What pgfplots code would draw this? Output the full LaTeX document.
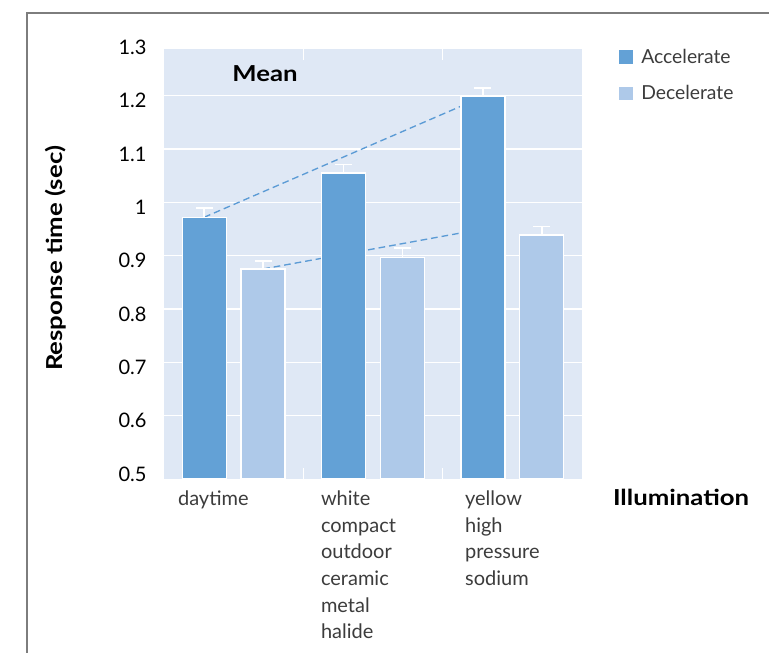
\documentclass[border=0pt]{standalone}
\usepackage{fontspec}
\setmainfont{Lato}
\newfontfamily\wide[FakeStretch=1.17]{Lato}
\usepackage{pgfplots}
\pgfplotsset{compat=1.18}
\definecolor{accel}{RGB}{99,161,214}
\definecolor{decel}{RGB}{174,201,233}
\definecolor{bgc}{RGB}{223,232,245}
\definecolor{dashc}{RGB}{91,155,213}
\definecolor{framec}{RGB}{125,125,125}
\definecolor{txt}{RGB}{60,60,60}
\begin{document}
\begin{tikzpicture}
\path[use as bounding box] (0pt,0pt) rectangle (576.75pt,-489.75pt);
\draw[framec, line width=1.5pt] (20.6pt,-500pt) -- (20.6pt,-9.75pt) -- (600pt,-9.75pt);
\begin{axis}[
  at={(123pt,-359.25pt)}, anchor=south west,
  width=313.5pt, height=322.5pt, scale only axis,
  xmin=-0.5, xmax=2.5, ymin=0.481, ymax=1.2876,
  clip mode=individual,
  axis background/.style={fill=bgc},
  axis line style={draw=none},
  tick style={draw=none},
  ytick={0.6,0.7,0.8,0.9,1.0,1.1,1.2},
  yticklabels={0.6,0.7,0.8,0.9,1,1.1,1.2},
  extra y ticks={0.5}, extra y tick labels={0.5},
  extra y tick style={grid=none},
  ymajorgrids, grid style={white, line width=1.1pt},
  xtick={-0.385,0.641,1.675},
  xticklabels={daytime,{white\\compact\\outdoor\\ceramic\\metal\\halide},{yellow\\high\\pressure\\sodium}},
  extra x ticks={0.5,1.5}, extra x tick labels={},
  extra x tick style={grid=none, major tick length=8pt, tick align=inside, tick style={draw=white, line width=1pt}},
  tick label style={font=\fontsize{15}{20}\selectfont},
  yticklabel style={xshift=-9.6pt, yshift=-3.75pt, text=black},
  xticklabel style={anchor=north west, align=left, xshift=-5pt, yshift=-5.25pt, text=txt},
  legend style={at={(axis description cs:1.0885,1.007)}, anchor=north west, draw=none, fill=none,
    font=\fontsize{14.5}{17}\selectfont\color{txt}, row sep=11.25pt, column sep=4.5pt, inner sep=0pt, cells={anchor=west}},
]
\addplot[dashc, line width=1pt, dash pattern=on 5pt off 3pt, forget plot] coordinates {(-0.2117,0.972) (1.7883,1.198)};
\addplot[dashc, line width=1pt, dash pattern=on 5pt off 3pt, forget plot] coordinates {(0.2117,0.875) (1.7883,0.950)};
\addplot[ybar, bar width=33pt, bar shift=0pt, fill=accel, draw=white, line width=1pt,
  legend image code/.code={\fill[accel] (0pt,-4.5pt) rectangle (9pt,4.5pt);},
  error bars/.cd, y dir=plus, y explicit,
  error bar style={white, line width=1.2pt},
  error mark options={white, line width=1.2pt, mark size=6.4pt, rotate=90}]
  coordinates {(-0.2117,0.972) +- (0,0.017) (0.7883,1.055) +- (0,0.016) (1.7883,1.198) +- (0,0.016)};
\addlegendentry{Accelerate}
\addplot[ybar, bar width=33pt, bar shift=0pt, fill=decel, draw=white, line width=1pt,
  legend image code/.code={\fill[decel] (0pt,-4.5pt) rectangle (9pt,4.5pt);},
  error bars/.cd, y dir=plus, y explicit,
  error bar style={white, line width=1.2pt},
  error mark options={white, line width=1.2pt, mark size=6.4pt, rotate=90}]
  coordinates {(0.2117,0.875) +- (0,0.015) (1.2117,0.897) +- (0,0.017) (2.2117,0.939) +- (0,0.016)};
\addlegendentry{Decelerate}
\node[anchor=base, font=\wide\bfseries\fontsize{16.5}{20}\selectfont] at (axis description cs:0.2416,0.924) {Mean};
\node[anchor=east, inner sep=0.333em, xshift=-9.6pt, yshift=-3.75pt, font=\fontsize{15}{20}\selectfont] at (axis cs:-0.5,1.3) {1.3};
\node[anchor=base, font=\wide\bfseries\fontsize{16.5}{20}\selectfont] at (axis description cs:1.237,-0.062) {Illumination};
\node[rotate=90, anchor=center, font=\wide\bfseries\fontsize{16.5}{20}\selectfont] at (axis description cs:-0.258,0.513) {Response time (sec)};
\end{axis}
\end{tikzpicture}
\end{document}
